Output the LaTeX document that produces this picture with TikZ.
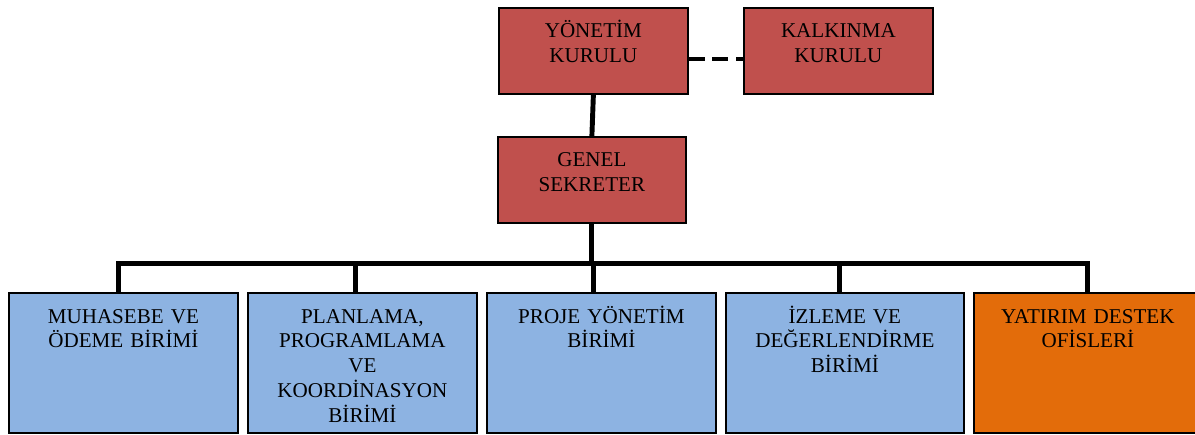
\documentclass[tikz,border=0pt]{standalone}
\usepackage{fontspec}
\setmainfont{Liberation Serif}
\usetikzlibrary{calc,positioning}
\definecolor{boardred}{HTML}{C0504D}
\definecolor{unitblue}{HTML}{8DB3E2}
\definecolor{officeorange}{HTML}{E36C0A}

\begin{document}
\begin{tikzpicture}[x=0.02cm,y=-0.02cm]
\tikzset{unit/.style={shape=rectangle,draw,line width=1pt,anchor=north west,inner sep=0pt,minimum width=229*0.02cm,minimum height=140*0.02cm,fill=unitblue}}
\tikzset{board/.style={unit,fill=boardred,minimum width=189*0.02cm,minimum height=86*0.02cm}}
\tikzset{caption/.style={anchor=base,align=center,inner sep=0pt,text width=4cm,font=\fontsize{12}{14.2}\selectfont}}
\tikzset{link/.style={line width=2.8pt}}
\def\capy{31}
\useasboundingbox (0,0) rectangle (1195,435);
%
\node at (498,7) [board] (yonetim) {};
\node at ($(yonetim.north)+(0,\capy)$) [caption] (yonetimtext) {YÖNETİM\\KURULU};
\node at (743,7) [board] (kalkinma) {};
\node at ($(kalkinma.north)+(0,\capy)$) [caption] (kalkinmatext) {KALKINMA\\KURULU};
\node at (497,136) [board,minimum width=188*0.02cm] (genel) {};
\node at ($(genel.north)+(0,\capy)$) [caption] (geneltext) {GENEL\\SEKRETER};
%
\node at (8,292) [unit] (muhasebe) {};
\node at ($(muhasebe.north)+(0,\capy)$) [caption] (muhasebetext) {MUHASEBE VE\\ÖDEME BİRİMİ};
\node at (247,292) [unit] (planlama) {};
\node at ($(planlama.north)+(0,\capy)$) [caption] (planlamatext) {PLANLAMA,\\PROGRAMLAMA\\VE\\KOORDİNASYON\\BİRİMİ};
\node at (486,292) [unit] (proje) {};
\node at ($(proje.north)+(0,\capy)$) [caption] (projetext) {PROJE YÖNETİM\\BİRİMİ};
\node at (725,292) [unit,minimum width=238*0.02cm] (izleme) {};
\node at ($(izleme.north)+(0,\capy)$) [caption] (izlemetext) {İZLEME VE\\DEĞERLENDİRME\\BİRİMİ};
\node at (973,292) [unit,fill=officeorange,minimum width=240*0.02cm] (yatirim) {};
\node at ($(yatirim.north)+(-6,\capy)$) [caption] (yatirimtext) {YATIRIM DESTEK\\OFİSLERİ};
%
\draw[link] (yonetim.south) -- (genel.north);
\draw[line width=2.5pt,dash pattern=on 9pt off 4.5pt] ($(yonetim.east)+(0,8)$) -- ($(kalkinma.west)+(0,8)$);
\foreach \n/\dx in {muhasebe/-5,planlama/-7,proje/-8,izleme/-5,yatirim/-6}
  \draw[link] (genel.south) -- ++(0,40) -| ($(\n.north)+(\dx,0)$);
\end{tikzpicture}
\end{document}
